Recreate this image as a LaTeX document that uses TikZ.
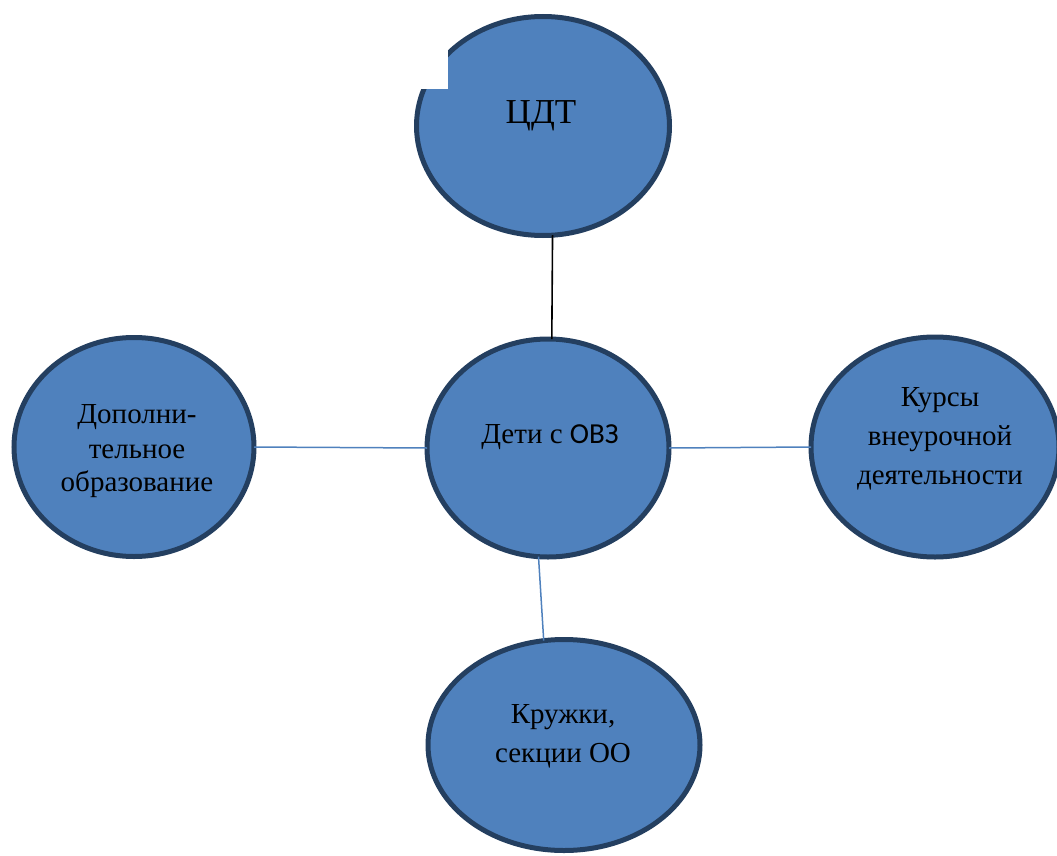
\documentclass[tikz,border=0pt]{standalone}
\usepackage{fontspec}
\setmainfont{Liberation Serif}
\newfontfamily\cbr{Carlito}
\usetikzlibrary{shapes.geometric}
\definecolor{ovfill}{HTML}{4F81BD}
\definecolor{ovline}{HTML}{243F60}
\tikzset{
  oval/.style={ellipse, draw=ovline, line width=5pt, fill=ovfill, inner sep=0pt, outer sep=0pt},
  txt/.style={anchor=base, inner sep=0pt, font=\fontsize{29}{34}\selectfont},
  bigtxt/.style={anchor=base, inner sep=0pt, font=\fontsize{35}{42}\selectfont},
  link/.style={draw=ovfill, line width=1.5pt},
  blacklink/.style={draw=black, line width=1.6pt}
}
\begin{document}
\begin{tikzpicture}[x=1pt,y=-1pt]
\useasboundingbox (0,0) rectangle (1057,856);
\clip (0,0) rectangle (1057,856);
% ovals
\node[oval, minimum width=253pt, minimum height=219pt] (cdt) at (543,126) {};
\node[oval, minimum width=242pt, minimum height=218pt] (deti) at (548,448) {};
\node[oval, minimum width=240pt, minimum height=219pt] (dop) at (134,447) {};
\node[oval, minimum width=248pt, minimum height=220pt] (kurs) at (935,447) {};
\node[oval, minimum width=272pt, minimum height=211pt] (kruzh) at (564,745) {};
% white patch
\fill[white] (405,48) rectangle (448,89);
% connectors
\draw[blacklink] (cdt.-85) -- (deti.88);
\draw[link] (dop.east) -- (deti.west);
\draw[link] (deti.east) -- (kurs.west);
\draw[link] (deti.-95) -- (kruzh.101);
% texts
\node[bigtxt] (tcdt) at (541,124) {ЦДТ};
\node[txt] (tdeti) at (550,443) {Дети с {\cbr ОВЗ}};
\node[txt] (tdop1) at (137,423) {Дополни-};
\node[txt] (tdop2) at (137,458) {тельное};
\node[txt] (tdop3) at (137,491) {образование};
\node[txt] (tkurs1) at (940,406) {Курсы};
\node[txt] (tkurs2) at (940,445) {внеурочной};
\node[txt] (tkurs3) at (940,484) {деятельности};
\node[txt] (tkr1) at (563,723) {Кружки,};
\node[txt] (tkr2) at (563,762) {секции ОО};
\end{tikzpicture}
\end{document}
